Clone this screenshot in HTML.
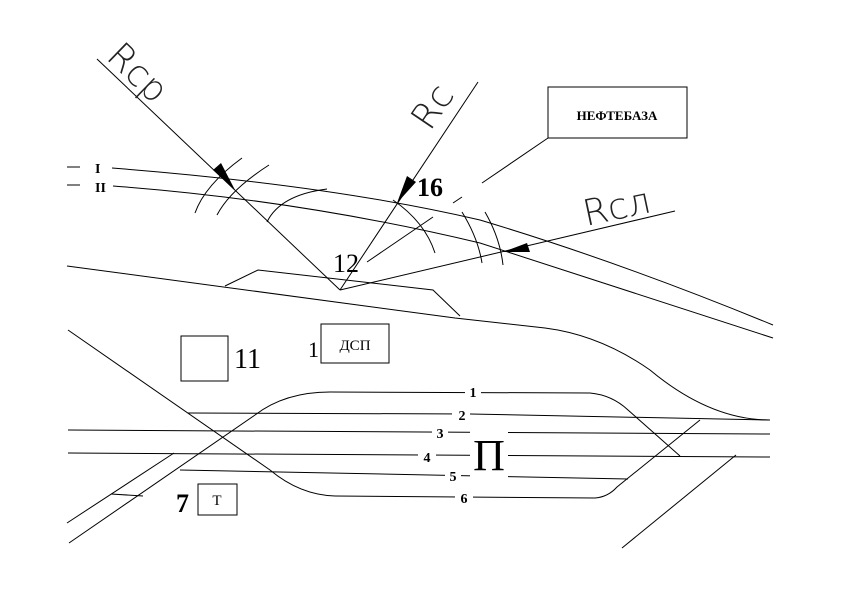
<!DOCTYPE html>
<html><head><meta charset="utf-8"><style>
html,body{margin:0;padding:0;background:#fff;}
svg{display:block;}
text{font-family:"Liberation Serif","DejaVu Serif",serif;fill:#000;}
.s{font-family:"DejaVu Sans","Liberation Sans",sans-serif;font-weight:200;fill:#222;}
</style></head><body>
<svg width="841" height="594" viewBox="0 0 841 594" xmlns="http://www.w3.org/2000/svg">
<g fill="none" stroke="#000" stroke-width="1">
<line x1="67" y1="167" x2="80" y2="167"/>
<line x1="67" y1="185" x2="80" y2="185"/>
<path d="M112,168 Q330,185 480,220 Q620,262 773,325"/>
<path d="M113,186 Q300,200 480,243 L773,338"/>
<line x1="97" y1="59" x2="340" y2="290"/>
<line x1="340" y1="290" x2="478" y2="82"/>
<line x1="340" y1="290" x2="675" y2="211"/>
<path d="M242,158 Q205,185 195,213"/>
<path d="M269,165 Q230,190 217,215"/>
<path d="M327,189 Q280,195 267,222"/>
<path d="M393,200 Q425,222 435,253"/>
<line x1="367" y1="262" x2="433" y2="217"/>
<path d="M462,212 Q478,238 482,263"/>
<path d="M485,212 Q500,238 503,265"/>
<line x1="453" y1="203" x2="462" y2="197"/>
<line x1="482" y1="183" x2="548" y2="138"/>
<path d="M67,266 L455,318 L545,328 Q600,335 650,370 Q710,420 770,420"/>
<polyline points="225,286 258,270 433,290 460,316"/>
<path d="M69,543 L255,415 Q285,392 330,392 L590,393 Q612,395 628,410 L680,456"/>
<path d="M188,413 L470,414 L770,420"/>
<path d="M68,430 L770,434"/>
<path d="M68,453 L770,457"/>
<path d="M180,470 L628,479"/>
<path d="M68,330 L270,470 Q300,495 335,496 L595,498 Q608,497 617,487 L700,420"/>
<line x1="67" y1="523" x2="174" y2="453"/>
<line x1="111" y1="494" x2="143" y2="496"/>
<line x1="736" y1="455" x2="622" y2="548"/>
<rect x="548" y="87" width="139" height="51"/>
<rect x="181" y="336" width="47" height="45"/>
<rect x="321" y="324" width="68" height="39"/>
<rect x="198" y="484" width="39" height="31"/>
</g>
<g fill="#fff">
<rect x="465" y="380" width="16" height="18"/>
<rect x="452" y="404" width="18" height="18"/>
<rect x="432" y="422" width="16" height="18"/>
<rect x="418" y="444" width="18" height="20"/>
<rect x="470" y="430" width="38" height="48"/>
<rect x="445" y="463" width="16" height="20"/>
<rect x="455" y="488" width="18" height="18"/>
</g>
<polygon points="213,170 221,163 235,190" fill="#000"/>
<polygon points="397,203 407,176 416,182" fill="#000"/>
<polygon points="503,252 527,243 530,252" fill="#000"/>
<text x="95" y="173" font-size="14" font-weight="bold">I</text>
<text x="95" y="192" font-size="14" font-weight="bold">II</text>
<text x="333" y="272" font-size="26">12</text>
<text x="417" y="196" font-size="26" font-weight="bold">16</text>
<text x="617" y="120" font-size="13" font-weight="bold" text-anchor="middle">НЕФТЕБАЗА</text>
<text x="234" y="368" font-size="28">11</text>
<text x="308" y="357" font-size="22">1</text>
<text x="355" y="350" font-size="15" text-anchor="middle">ДСП</text>
<text x="176" y="512" font-size="26" font-weight="bold">7</text>
<text x="217" y="505" font-size="15" text-anchor="middle">Т</text>
<text x="473" y="397" font-size="14" font-weight="bold" text-anchor="middle">1</text>
<text x="462" y="420" font-size="14" font-weight="bold" text-anchor="middle">2</text>
<text x="440" y="438" font-size="14" font-weight="bold" text-anchor="middle">3</text>
<text x="427" y="462" font-size="14" font-weight="bold" text-anchor="middle">4</text>
<text x="489" y="470" font-size="44" text-anchor="middle">П</text>
<text x="453" y="481" font-size="14" font-weight="bold" text-anchor="middle">5</text>
<text x="464" y="503" font-size="14" font-weight="bold" text-anchor="middle">6</text>
<text class="s" x="0" y="0" font-size="36" transform="translate(105,58) rotate(44)">Rcp</text>
<text class="s" x="0" y="0" font-size="36" transform="translate(430,132) rotate(-56)">Rc</text>
<text class="s" x="0" y="0" font-size="36" transform="translate(586,226) rotate(-12)">Rcл</text>
</svg>
</body></html>
